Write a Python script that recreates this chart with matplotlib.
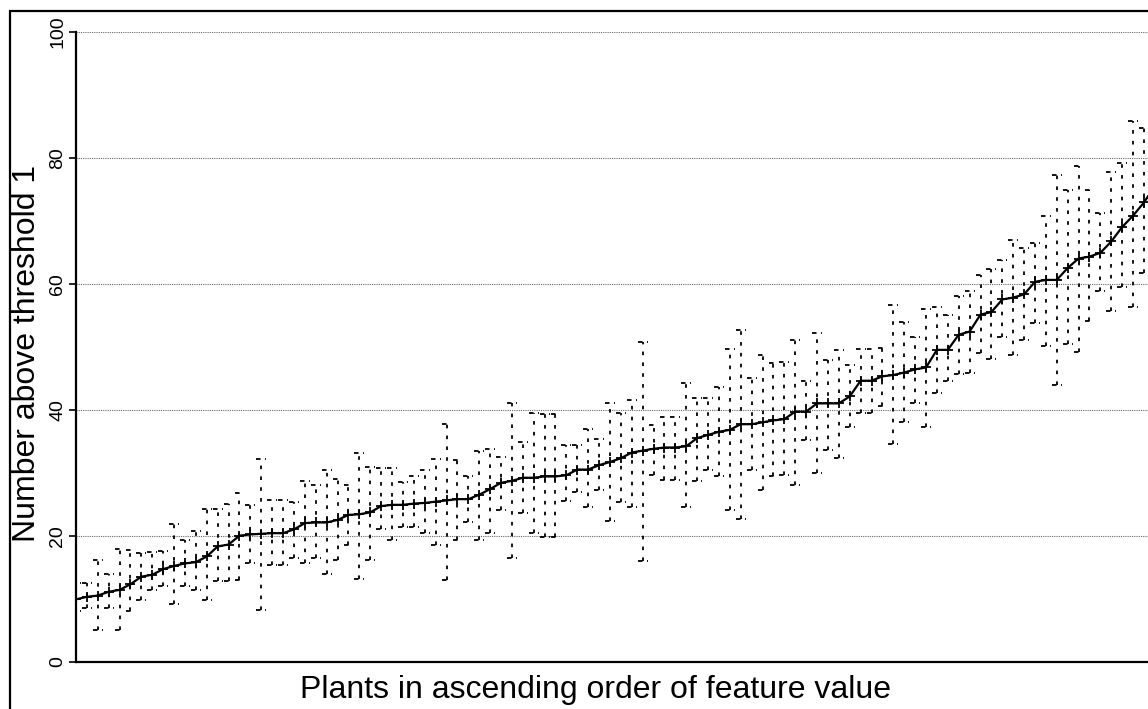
import matplotlib
matplotlib.use("Agg")
import matplotlib.pyplot as plt
from matplotlib.patches import Rectangle
import numpy as np

plt.rcParams['font.family'] = ['Liberation Sans', 'DejaVu Sans']

# mean count per plant (plants sorted by feature value)
mean_vals = [9.9, 10.3, 10.5, 11.1, 11.4, 12.3, 13.5, 13.8, 14.7, 15.2,
             15.6, 15.8, 16.7, 18.3, 18.6, 20.0, 20.2, 20.3, 20.4, 20.4,
             21.0, 22.0, 22.1, 22.1, 22.5, 23.3, 23.4, 23.7, 24.7, 24.9,
             24.9, 25.1, 25.2, 25.4, 25.6, 25.8, 25.8, 26.5, 27.4, 28.4,
             28.7, 29.2, 29.2, 29.4, 29.4, 29.6, 30.5, 30.5, 31.2, 31.7,
             32.3, 33.2, 33.5, 33.8, 34.0, 34.0, 34.2, 35.5, 36.0, 36.5,
             36.8, 37.7, 37.7, 38.0, 38.3, 38.5, 39.7, 39.7, 41.0, 41.0,
             41.0, 42.1, 44.6, 44.6, 45.3, 45.5, 45.9, 46.4, 46.7, 49.5,
             49.5, 51.9, 52.4, 55.1, 55.5, 57.5, 57.8, 58.3, 60.3, 60.6,
             60.6, 62.5, 64.0, 64.3, 64.9, 66.7, 69.0, 70.8, 72.9, 75.5]

# upper end of each error bar
upper_vals = [12.5, 12.5, 16.2, 14.0, 17.9, 17.7, 17.2, 17.4, 17.6, 21.8,
              19.3, 20.8, 24.2, 24.2, 25.1, 26.7, 24.8, 32.1, 25.7, 25.7,
              25.4, 28.7, 28.0, 30.4, 29.0, 28.0, 33.2, 30.9, 30.8, 30.7,
              28.6, 29.4, 30.4, 32.2, 37.7, 32.0, 29.4, 33.4, 33.7, 32.5,
              41.1, 34.8, 39.4, 39.3, 39.3, 34.4, 34.4, 37.0, 35.3, 41.1,
              39.4, 41.6, 50.7, 37.6, 38.9, 38.9, 44.2, 41.9, 41.8, 43.6,
              49.6, 52.7, 45.0, 48.7, 47.4, 47.5, 51.1, 44.6, 52.2, 47.9,
              49.5, 47.1, 49.6, 49.7, 49.8, 56.6, 53.9, 51.5, 56.0, 56.3,
              55.0, 58.1, 58.9, 61.4, 62.4, 63.8, 67.0, 65.6, 66.5, 70.8,
              77.3, 74.9, 78.7, 74.8, 71.2, 77.7, 79.1, 85.9, 84.7, 86.0]

# lower end of each error bar
lower_vals = [8.0, 8.5, 5.1, 8.5, 5.1, 8.0, 9.8, 11.4, 12.0, 9.1,
              12.0, 11.4, 9.8, 12.8, 12.8, 13.0, 15.6, 8.2, 15.3, 15.3,
              16.4, 15.7, 16.4, 13.9, 16.1, 18.5, 13.2, 16.1, 21.0, 19.3,
              21.4, 21.4, 20.5, 18.5, 13.0, 19.3, 22.1, 19.3, 20.4, 24.1,
              16.4, 23.6, 20.4, 19.8, 19.8, 25.5, 27.0, 24.6, 27.2, 22.4,
              25.4, 24.6, 16.0, 29.6, 28.9, 28.9, 24.6, 28.7, 30.4, 29.5,
              24.1, 22.6, 30.4, 27.3, 29.4, 29.6, 28.0, 35.2, 29.9, 33.6,
              32.4, 37.3, 39.4, 39.4, 40.6, 34.6, 38.1, 41.1, 37.3, 42.7,
              44.6, 45.7, 45.9, 49.0, 48.1, 51.6, 48.7, 51.1, 53.7, 50.1,
              44.0, 50.4, 49.2, 54.1, 58.9, 55.6, 59.5, 56.3, 61.7, 62.0]

y_ticks = [0, 20, 40, 60, 80, 100]

plants = np.arange(len(mean_vals))
mean = np.array(mean_vals)
upper = np.array(upper_vals)
lower = np.array(lower_vals)

fig = plt.figure(figsize=(11.48, 7.09), dpi=100)
ax = fig.add_axes([76 / 1148, 47.3 / 709, 1072 / 1148, 630 / 709])

# error bars: dotted verticals with short dashed caps
ax.vlines(plants, lower, upper, colors='black', linewidth=1.3,
          linestyles=(0, (2.0, 4.0)), zorder=2)
cap = 0.45
ax.hlines(upper, plants - cap, plants + cap, colors='black', linewidth=1.3,
          linestyles=(0, (2.5, 2.5)), zorder=2)
ax.hlines(lower, plants - cap, plants + cap, colors='black', linewidth=1.3,
          linestyles=(0, (2.5, 2.5)), zorder=2)

# mean line
ax.plot(plants, mean, color='black', linewidth=1.6, marker='+',
        markersize=7, markeredgewidth=1.3, zorder=3)

ax.set_xlim(0, 98.37)
ax.set_ylim(0, 100)
ax.set_xticks([])
ax.set_yticks(y_ticks)
ax.set_yticklabels([str(t) for t in y_ticks], rotation=90, va='center',
                   fontsize=14)
ax.tick_params(axis='y', direction='out', length=5, width=1.2, pad=2)

ax.yaxis.grid(True, color='0.4', linewidth=0.8, linestyle=(0, (1, 1)))
ax.set_axisbelow(True)

ax.spines['top'].set_visible(False)
ax.spines['right'].set_visible(False)
ax.spines['left'].set_linewidth(1.6)
ax.spines['bottom'].set_linewidth(1.6)

fig.text(27 / 1148, 1 - 353.5 / 709, 'Number above threshold 1',
         rotation=90, ha='center', va='center', fontsize=23)
fig.text(595 / 1148, 1 - 698 / 709, 'Plants in ascending order of feature value',
         ha='center', va='baseline', fontsize=23)

# frame around the whole figure (cropped at right and bottom)
fig.add_artist(Rectangle((9.5 / 1148, -0.2), 2, 1.2 - 10.5 / 709,
                         transform=fig.transFigure, fill=False,
                         edgecolor='black', linewidth=1.6))

fig.savefig('out.png', dpi=100)
